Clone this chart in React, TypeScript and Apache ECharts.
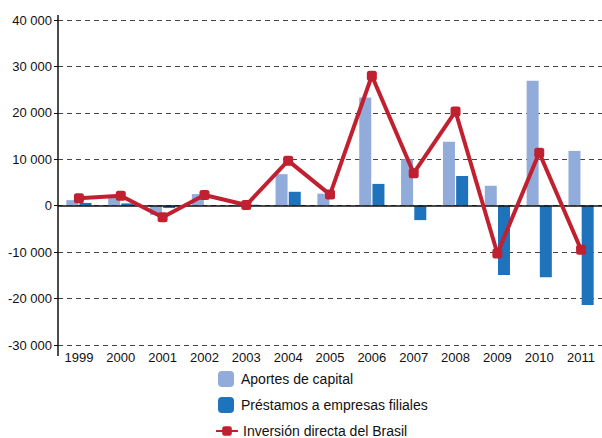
import React, { useEffect, useRef } from "react";
import * as echarts from "echarts";

const years = ["1999", "2000", "2001", "2002", "2003", "2004", "2005", "2006", "2007", "2008", "2009", "2010", "2011"];
const aportes = [1200, 1800, -2000, 2500, 300, 6800, 2600, 23300, 10000, 13800, 4300, 26900, 11800];
const prestamos = [600, 500, -500, 0, 200, 3000, 0, 4700, -3100, 6400, -14900, -15400, -21400];
const inversion = [1600, 2150, -2500, 2300, 150, 9700, 2400, 28000, 7000, 20300, -10300, 11400, -9500];

const fmt = (v: number) => {
  const s = Math.abs(v).toString().replace(/\B(?=(\d{3})+(?!\d))/g, " ");
  return (v < 0 ? "-" : "") + s;
};

export default function App() {
  const ref = useRef<HTMLDivElement>(null);
  useEffect(() => {
    if (!ref.current) return;
    const chart = echarts.init(ref.current, null, { renderer: "svg" });
    const font = "Liberation Sans, Arial, sans-serif";
    chart.setOption({
      animation: false,
      textStyle: { fontFamily: font },
      grid: { left: 58, top: 20, height: 325, width: 552 },
      legend: [
        {
          data: ["Aportes de capital", "Préstamos a empresas filiales"],
          orient: "vertical",
          left: 218,
          top: 371,
          padding: 0,
          itemWidth: 16,
          itemHeight: 16,
          itemGap: 10,
          textStyle: { fontSize: 14, color: "#111", fontFamily: font, padding: [0, 0, 0, 2] },
        },
        {
          data: ["Inversión directa del Brasil"],
          orient: "vertical",
          left: 215,
          top: 424,
          padding: 0,
          itemWidth: 22,
          itemHeight: 12,
          textStyle: { fontSize: 14, lineHeight: 12, color: "#111", fontFamily: font, padding: [0, 0, 0, 0] },
        },
      ],
      xAxis: {
        type: "category",
        data: years,
        axisLine: { show: false },
        axisTick: { show: false },
        axisLabel: { fontSize: 13, color: "#111", margin: 6, fontFamily: font },
      },
      yAxis: {
        type: "value",
        min: -30000,
        max: 40000,
        interval: 10000,
        axisLine: { show: false },
        axisTick: { show: true, length: 4, lineStyle: { color: "#111" } },
        axisLabel: { fontSize: 13, color: "#111", margin: 6, formatter: fmt, fontFamily: font },
        splitLine: { show: true, lineStyle: { color: "#444", width: 1, type: [5, 4] } },
      },
      graphic: [
        {
          type: "line",
          shape: { x1: 58, y1: 15, x2: 58, y2: 356 },
          style: { stroke: "#111", lineWidth: 1.5 },
          z: 10,
        },
      ],
      series: [
        {
          name: "Aportes de capital",
          type: "bar",
          data: aportes,
          barWidth: 12,
          barGap: "10%",
          itemStyle: { color: "#91acdb" },
          markLine: {
            silent: true,
            symbol: "none",
            label: { show: false },
            lineStyle: { color: "#111", type: "solid", width: 1.5 },
            data: [{ yAxis: 0 }],
            z: 5,
          },
        },
        {
          name: "Préstamos a empresas filiales",
          type: "bar",
          data: prestamos,
          barWidth: 12,
          itemStyle: { color: "#1f72bc" },
        },
        {
          name: "Inversión directa del Brasil",
          type: "line",
          data: inversion,
          symbol: "roundRect",
          symbolSize: 10,
          z: 6,
          lineStyle: { color: "#c0202f", width: 4 },
          itemStyle: { color: "#c0202f" },
        },
      ],
    });
    return () => chart.dispose();
  }, []);
  return (
    <div style={{ position: "fixed", left: 0, top: 0, width: 602, height: 438, background: "#fff" }}>
      <div ref={ref} style={{ width: 602, height: 438 }} />
    </div>
  );
}
